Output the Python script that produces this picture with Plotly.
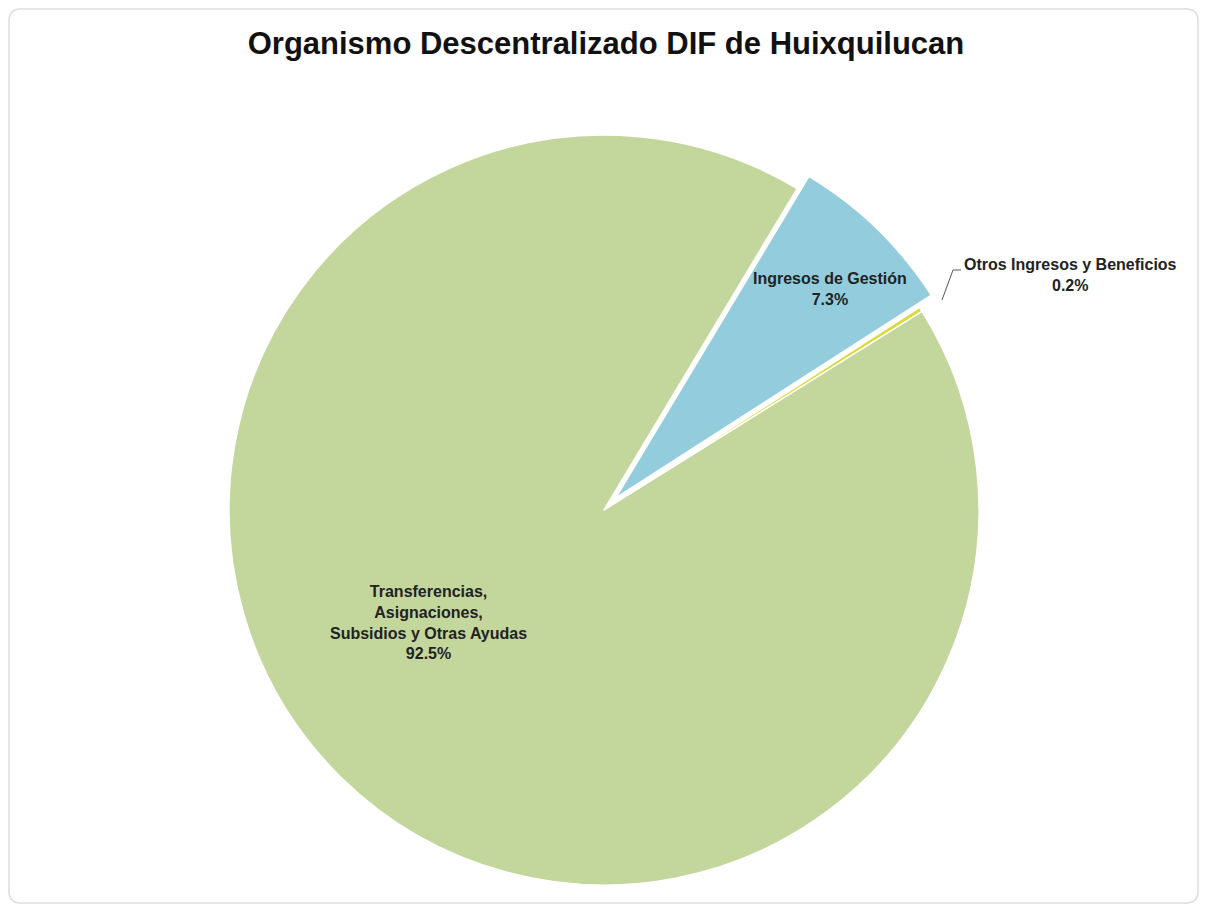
import plotly.graph_objects as go

# Data
categories = ["Ingresos de Gestión", "Otros Ingresos y Beneficios",
              "Transferencias, Asignaciones, Subsidios y Otras Ayudas"]
display_labels = ["Ingresos de Gestión", "Otros Ingresos y Beneficios",
                  "Transferencias,<br>Asignaciones,<br>Subsidios y Otras Ayudas"]
values = [7.3, 0.2, 92.5]
colors = ["#93CDDD", "#D8DC3A", "#C3D69B"]
pulls = [0.045, 0.0, 0.0]

title = "Organismo Descentralizado DIF de Huixquilucan"

# page body has an 8px default margin; figure sized to fit the 1207x912 window
W, H = 1191, 896

fig = go.Figure()
fig.add_trace(go.Pie(
    labels=categories,
    values=values,
    marker=dict(colors=colors, line=dict(color="#FFFFFF", width=1.5)),
    pull=pulls,
    sort=False,
    direction="clockwise",
    rotation=31,
    textinfo="none",
    hoverinfo="label+percent",
    showlegend=False,
    domain=dict(x=[204 / W, 988 / W], y=[2.1 / H, 785.9 / H]),
))

# Label annotations (text from data arrays)
label_pos = [(822 / W, 1 - 281 / H), (1062 / W, 1 - 267 / H), (420 / W, 1 - 614 / H)]
for lab, v, (px, py) in zip(display_labels, values, label_pos):
    fig.add_annotation(
        x=px, y=py, xref="paper", yref="paper",
        text=f"<b>{lab}<br>{v:.1f}%</b>",
        showarrow=False, align="center",
        font=dict(family="Liberation Sans, Arial", size=16, color="#222222"),
        xanchor="center", yanchor="middle",
    )

# leader line for the tiny slice
fig.add_shape(type="path", xref="paper", yref="paper",
              path=f"M {934/W} {1-292/H} L {945/W} {1-262/H} L {953/W} {1-262/H}",
              line=dict(color="#555555", width=1))

# rounded frame
x0, y0, x1, y1, r = 1 / W, 1 - 895 / H, 1190 / W, 1 - 1 / H, 12
rx, ry = r / W, r / H
frame = (f"M {x0+rx} {y1} L {x1-rx} {y1} Q {x1} {y1} {x1} {y1-ry} "
         f"L {x1} {y0+ry} Q {x1} {y0} {x1-rx} {y0} L {x0+rx} {y0} "
         f"Q {x0} {y0} {x0} {y0+ry} L {x0} {y1-ry} Q {x0} {y1} {x0+rx} {y1} Z")
fig.add_shape(type="path", xref="paper", yref="paper", path=frame,
              line=dict(color="#DDDDDD", width=1.5), layer="below")

fig.update_layout(
    width=W, height=H,
    margin=dict(l=0, r=0, t=0, b=0),
    paper_bgcolor="white",
    plot_bgcolor="white",
    title=dict(text=f"<b>{title}</b>", x=598 / W, xanchor="center",
               y=1 - 35 / H, yanchor="middle",
               font=dict(family="Liberation Sans, Arial", size=31, color="#111111")),
)

fig.write_html("out.html")
